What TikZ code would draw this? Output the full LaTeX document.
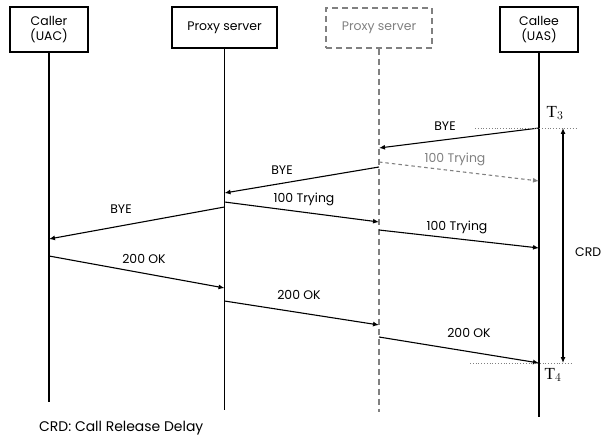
\documentclass[tikz,border=0pt]{standalone}
\usepackage{fontspec}
\newfontfamily\gothic{Poppins}
\newfontfamily\tfont{Liberation Serif}
\usetikzlibrary{arrows.meta}

\begin{document}
\begin{tikzpicture}[
  x=1bp,y=-1bp,
  font=\gothic\fontsize{12.5}{14.5}\selectfont,
  actor/.style={draw,line width=1.7bp,align=center,inner sep=0pt,minimum width=78bp,minimum height=45bp},
  ghost/.style={actor,draw=gray,text=gray,dash pattern=on 6bp off 4bp,line width=1.4bp},
  life/.style={line width=1.6bp},
  msg/.style={-{Latex[length=6bp,width=5bp]},line width=1.1bp},
  grey msg/.style={msg,gray,dash pattern=on 3.5bp off 3bp},
  mark line/.style={gray,dotted,line width=0.8bp},
  tlabel/.style={font=\tfont\fontsize{17}{19}\selectfont,inner sep=0pt}
]
\useasboundingbox (0,0) rectangle (603,439);

% participants
\node[actor] (caller) at (49,29.5) {Caller\\(UAC)};
\node[actor,minimum width=105bp,minimum height=41bp] (proxy) at (224.5,27.5) {Proxy server};
\node[ghost,minimum width=106bp,minimum height=40bp] (proxy2) at (379,28) {Proxy server};
\node[actor] (callee) at (539,29.5) {Callee\\(UAS)};

% lifelines
\coordinate (callerEnd) at (caller.south |- 0,402);
\coordinate (proxyEnd) at (proxy.south |- 0,410);
\coordinate (proxy2End) at (proxy2.south |- 0,412);
\coordinate (calleeEnd) at (callee.south |- 0,417);
\draw[life] (caller.south) -- (callerEnd);
\draw[life] (proxy.south) -- (proxyEnd);
\draw[life,gray,dash pattern=on 6bp off 4bp] (proxy2.south) -- (proxy2End);
\draw[life] (callee.south) -- (calleeEnd);

% message end points
\coordinate (bye1s) at (callee.south |- 0,128);
\coordinate (bye1e) at (proxy2.south |- 0,148);
\coordinate (try1s) at (proxy2.south |- 0,162);
\coordinate (try1e) at (callee.south |- 0,181);
\coordinate (bye2s) at (proxy2.south |- 0,167);
\coordinate (bye2e) at (proxy.south |- 0,193);
\coordinate (try2s) at (proxy.south |- 0,202);
\coordinate (try2e) at (proxy2.south |- 0,222);
\coordinate (try3s) at (proxy2.south |- 0,230);
\coordinate (try3e) at (callee.south |- 0,248);
\coordinate (bye3s) at (proxy.south |- 0,207);
\coordinate (bye3e) at (caller.south |- 0,239);
\coordinate (ok1s) at (caller.south |- 0,256);
\coordinate (ok1e) at (proxy.south |- 0,288);
\coordinate (ok2s) at (proxy.south |- 0,301);
\coordinate (ok2e) at (proxy2.south |- 0,325);
\coordinate (ok3s) at (proxy2.south |- 0,337);
\coordinate (ok3e) at (callee.south |- 0,363);

% messages
\draw[msg] (bye1s) -- (bye1e);
\node (bye1) at (445,126) {BYE};
\draw[grey msg] (try1s) -- (try1e);
\node[text=gray] (try1) at (455,159) {100 Trying};
\draw[msg] (bye2s) -- (bye2e);
\node (bye2) at (282,170) {BYE};
\draw[msg] (try2s) -- (try2e);
\node (try2) at (304,199) {100 Trying};
\draw[msg] (try3s) -- (try3e);
\node (try3) at (457,227) {100 Trying};
\draw[msg] (bye3s) -- (bye3e);
\node (bye3) at (121,209) {BYE};
\draw[msg] (ok1s) -- (ok1e);
\node (ok1) at (144,259) {200 OK};
\draw[msg] (ok2s) -- (ok2e);
\node (ok2) at (299,295) {200 OK};
\draw[msg] (ok3s) -- (ok3e);
\node (ok3) at (469,333) {200 OK};

% release delay
\coordinate (t3a) at (475,128);
\coordinate (t3b) at (578,128);
\coordinate (t4a) at (470,363);
\coordinate (t4b) at (572,363);
\draw[mark line] (t3a) -- (t3b);
\draw[mark line] (t4a) -- (t4b);
\node[tlabel] (t3) at (555,113) {T$_3$};
\node[tlabel] (t4) at (553,375) {T$_4$};
\coordinate (crdTop) at (563,128);
\coordinate (crdBot) at (563,363);
\draw[msg,{Latex[length=6bp,width=5bp]}-{Latex[length=6bp,width=5bp]}] (crdTop) -- (crdBot);
\node[anchor=west,inner sep=0pt] (crd) at (575,252) {CRD};
\node[anchor=west,inner sep=0pt,font=\gothic\fontsize{14}{16}\selectfont] (legend) at (39,428) {CRD: Call Release Delay};
\end{tikzpicture}
\end{document}
